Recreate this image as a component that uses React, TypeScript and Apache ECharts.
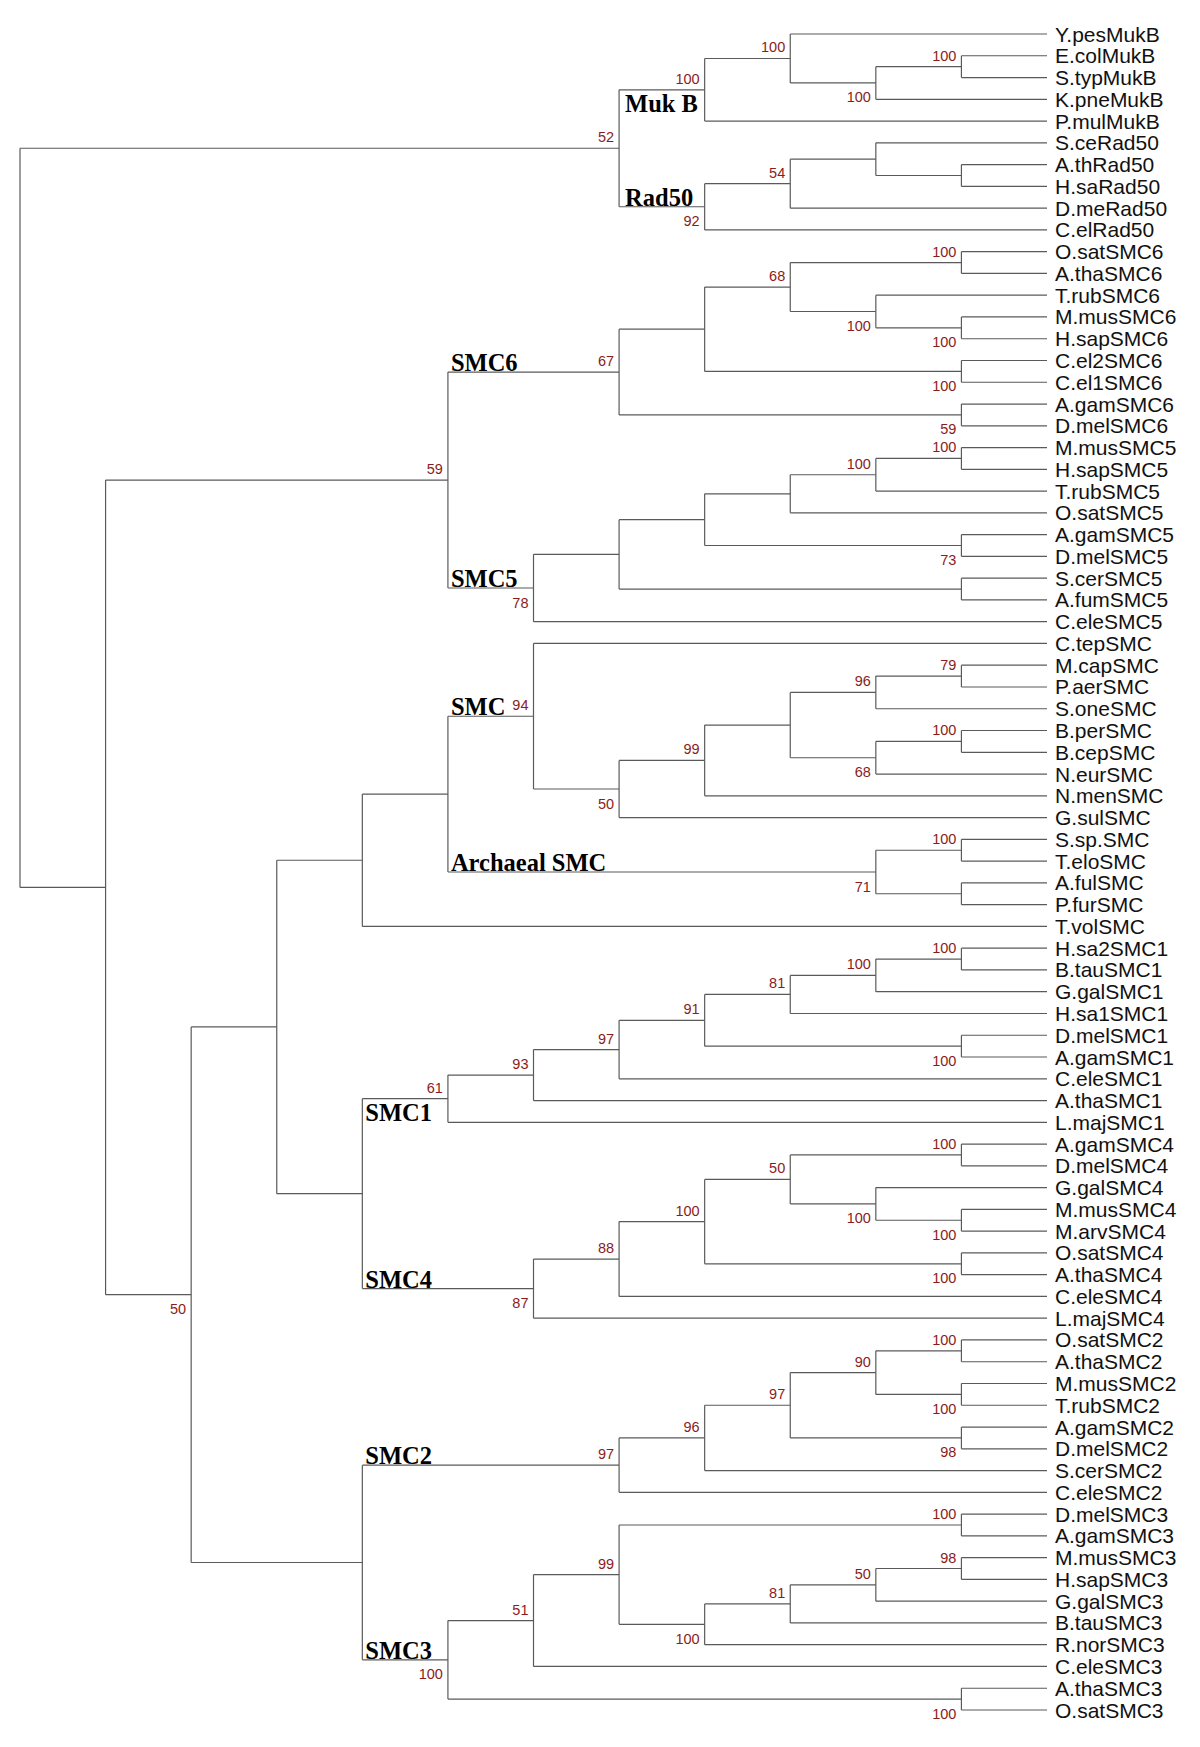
import React, { useEffect, useRef } from "react";
import * as echarts from "echarts";

// ---- Tree data (Newick, internal labels = bootstrap support, "#" = clade name) ----
const mukB = "((Y.pesMukB,((E.colMukB,S.typMukB)100,K.pneMukB)100)100,P.mulMukB)100#Muk B";
const rad50 = "(((S.ceRad50,(A.thRad50,H.saRad50)),D.meRad50)54,C.elRad50)92#Rad50";
const smc6 =
  "((((O.satSMC6,A.thaSMC6)100,(T.rubSMC6,(M.musSMC6,H.sapSMC6)100)100)68,(C.el2SMC6,C.el1SMC6)100),(A.gamSMC6,D.melSMC6)59)67#SMC6";
const smc5 =
  "((((((M.musSMC5,H.sapSMC5)100,T.rubSMC5)100,O.satSMC5),(A.gamSMC5,D.melSMC5)73),(S.cerSMC5,A.fumSMC5)),C.eleSMC5)78#SMC5";
const smcBact =
  "(C.tepSMC,(((((M.capSMC,P.aerSMC)79,S.oneSMC)96,((B.perSMC,B.cepSMC)100,N.eurSMC)68),N.menSMC)99,G.sulSMC)50)94#SMC";
const smcArch = "((S.sp.SMC,T.eloSMC)100,(A.fulSMC,P.furSMC))71#Archaeal SMC";
const smc1 =
  "(((((((H.sa2SMC1,B.tauSMC1)100,G.galSMC1)100,H.sa1SMC1)81,(D.melSMC1,A.gamSMC1)100)91,C.eleSMC1)97,A.thaSMC1)93,L.majSMC1)61#SMC1";
const smc4 =
  "(((((A.gamSMC4,D.melSMC4)100,(G.galSMC4,(M.musSMC4,M.arvSMC4)100)100)50,(O.satSMC4,A.thaSMC4)100)100,C.eleSMC4)88,L.majSMC4)87#SMC4";
const smc2 =
  "(((((O.satSMC2,A.thaSMC2)100,(M.musSMC2,T.rubSMC2)100)90,(A.gamSMC2,D.melSMC2)98)97,S.cerSMC2)96,C.eleSMC2)97#SMC2";
const smc3 =
  "((((D.melSMC3,A.gamSMC3)100,((((M.musSMC3,H.sapSMC3)98,G.galSMC3)50,B.tauSMC3)81,R.norSMC3)100)99,C.eleSMC3)51,(A.thaSMC3,O.satSMC3)100)100#SMC3";

const newick = `((${mukB},${rad50})52,((${smc6},${smc5})59,((((${smcBact},${smcArch}),T.volSMC),(${smc1},${smc4})),(${smc2},${smc3}))50))`;

// clade names written below their branch instead of above
const cladeLabelsBelow = ["Muk B", "SMC1"];
// clade names whose branch starts at the top split (slightly larger indent)
const cladeLabelsWideIndent = ["Muk B", "Rad50"];

type TNode = {
  name: string;
  support: string;
  clade: string;
  children: TNode[];
  height: number;
  y: number;
};

function parseNewick(s: string): TNode {
  let i = 0;
  const readLabel = () => {
    const j = i;
    while (i < s.length && !",()".includes(s[i])) i++;
    return s.slice(j, i).trim();
  };
  const node = (): TNode => {
    if (s[i] === "(") {
      i++;
      const children = [node()];
      while (s[i] === ",") {
        i++;
        children.push(node());
      }
      i++; // ')'
      const lab = readLabel();
      const [sup, clade] = lab.split("#");
      return { name: "", support: sup || "", clade: clade || "", children, height: 0, y: 0 };
    }
    return { name: readLabel(), support: "", clade: "", children: [], height: 0, y: 0 };
  };
  return node();
}

function buildLayout(root: TNode) {
  let leafCount = 0;
  const measure = (n: TNode) => {
    if (!n.children.length) {
      n.height = 0;
      n.y = leafCount++;
      return;
    }
    n.children.forEach(measure);
    n.height = 1 + Math.max(...n.children.map((c) => c.height));
    n.y = (n.children[0].y + n.children[n.children.length - 1].y) / 2;
  };
  measure(root);
  const maxH = root.height;
  const branches: number[][] = [];
  const leaves: { v: number[]; text: string }[] = [];
  const supports: { v: number[]; text: string; below: boolean }[] = [];
  const clades: { v: number[]; text: string; below: boolean; wide: boolean }[] = [];
  const walk = (n: TNode, parentLevel: number | null, isFirst: boolean) => {
    const level = maxH - n.height;
    const pl = parentLevel === null ? level : parentLevel;
    if (!n.children.length) {
      branches.push([pl, level, n.y, n.y, n.y]);
      leaves.push({ v: [level, n.y], text: n.name });
      return;
    }
    const first = n.children[0];
    const last = n.children[n.children.length - 1];
    branches.push([pl, level, n.y, first.y, last.y]);
    if (n.support) supports.push({ v: [level, n.y], text: n.support, below: !isFirst });
    if (n.clade)
      clades.push({
        v: [pl, n.y],
        text: n.clade,
        below: cladeLabelsBelow.includes(n.clade),
        wide: cladeLabelsWideIndent.includes(n.clade),
      });
    n.children.forEach((c, k) => walk(c, level, k === 0));
  };
  walk(root, null, true);
  return { maxH, leafCount, branches, leaves, supports, clades };
}

const LINE_COLOR = "#5a5a5a";
const SUPPORT_COLOR = "#8b1c1c";

export default function App() {
  const ref = useRef<HTMLDivElement>(null);
  useEffect(() => {
    if (!ref.current) return;
    const chart = echarts.init(ref.current, undefined, { renderer: "svg" });
    const tree = parseNewick(newick);
    const L = buildLayout(tree);

    const textItem = (
      p: number[],
      text: string,
      dx: number,
      dy: number,
      align: string,
      font: { size: number; family: string; weight: string; color: string }
    ) => ({
      type: "text",
      x: p[0] + dx,
      y: p[1] + dy,
      style: {
        text,
        fill: font.color,
        fontSize: font.size,
        fontFamily: font.family,
        fontWeight: font.weight,
        align,
        textAlign: align,
        verticalAlign: "middle",
        textVerticalAlign: "middle",
      },
    });

    chart.setOption({
      animation: false,
      backgroundColor: "#ffffff",
      grid: { left: 20, right: 153, top: 34, bottom: 37 },
      xAxis: { type: "value", min: 0, max: L.maxH, show: false },
      yAxis: { type: "value", min: 0, max: L.leafCount - 1, inverse: true, show: false },
      series: [
        {
          type: "custom",
          name: "branches",
          silent: true,
          clip: false,
          encode: { x: [0, 1], y: [2, 3, 4] },
          data: L.branches,
          renderItem: (_params: any, api: any) => {
            const a = api.coord([api.value(0), api.value(2)]);
            const b = api.coord([api.value(1), api.value(2)]);
            const t = api.coord([api.value(1), api.value(3)]);
            const d = api.coord([api.value(1), api.value(4)]);
            const children: any[] = [];
            const style = { stroke: LINE_COLOR, lineWidth: 1.2 };
            if (b[0] - a[0] > 0.1)
              children.push({ type: "line", shape: { x1: a[0], y1: a[1], x2: b[0], y2: b[1] }, style });
            if (d[1] - t[1] > 0.1)
              children.push({ type: "line", shape: { x1: t[0], y1: t[1], x2: d[0], y2: d[1] }, style });
            return { type: "group", children };
          },
        },
        {
          type: "custom",
          name: "leaves",
          silent: true,
          clip: false,
          encode: { x: 0, y: 1 },
          data: L.leaves.map((l) => l.v),
          renderItem: (params: any, api: any) => {
            const p = api.coord([api.value(0), api.value(1)]);
            return textItem(p, L.leaves[params.dataIndex].text, 8, 0, "left", {
              size: 21,
              family: "'Liberation Sans', Arial, sans-serif",
              weight: "normal",
              color: "#111111",
            });
          },
        },
        {
          type: "custom",
          name: "support",
          silent: true,
          clip: false,
          encode: { x: 0, y: 1 },
          data: L.supports.map((s) => s.v),
          renderItem: (params: any, api: any) => {
            const s = L.supports[params.dataIndex];
            const p = api.coord([api.value(0), api.value(1)]);
            return textItem(p, s.text, -5, s.below ? 14.5 : -11, "right", {
              size: 14.5,
              family: "'Liberation Sans', Arial, sans-serif",
              weight: "normal",
              color: SUPPORT_COLOR,
            });
          },
        },
        {
          type: "custom",
          name: "clades",
          silent: true,
          clip: false,
          encode: { x: 0, y: 1 },
          data: L.clades.map((c) => c.v),
          renderItem: (params: any, api: any) => {
            const c = L.clades[params.dataIndex];
            const p = api.coord([api.value(0), api.value(1)]);
            return textItem(p, c.text, c.wide ? 6 : 3, c.below ? 14 : -9.5, "left", {
              size: 24.5,
              family: "'Liberation Serif', 'Times New Roman', serif",
              weight: "bold",
              color: "#000000",
            });
          },
        },
      ],
    });
    return () => chart.dispose();
  }, []);
  return (
    <div
      ref={ref}
      style={{ position: "absolute", left: 0, top: 0, width: 1200, height: 1747, background: "#fff" }}
    />
  );
}
